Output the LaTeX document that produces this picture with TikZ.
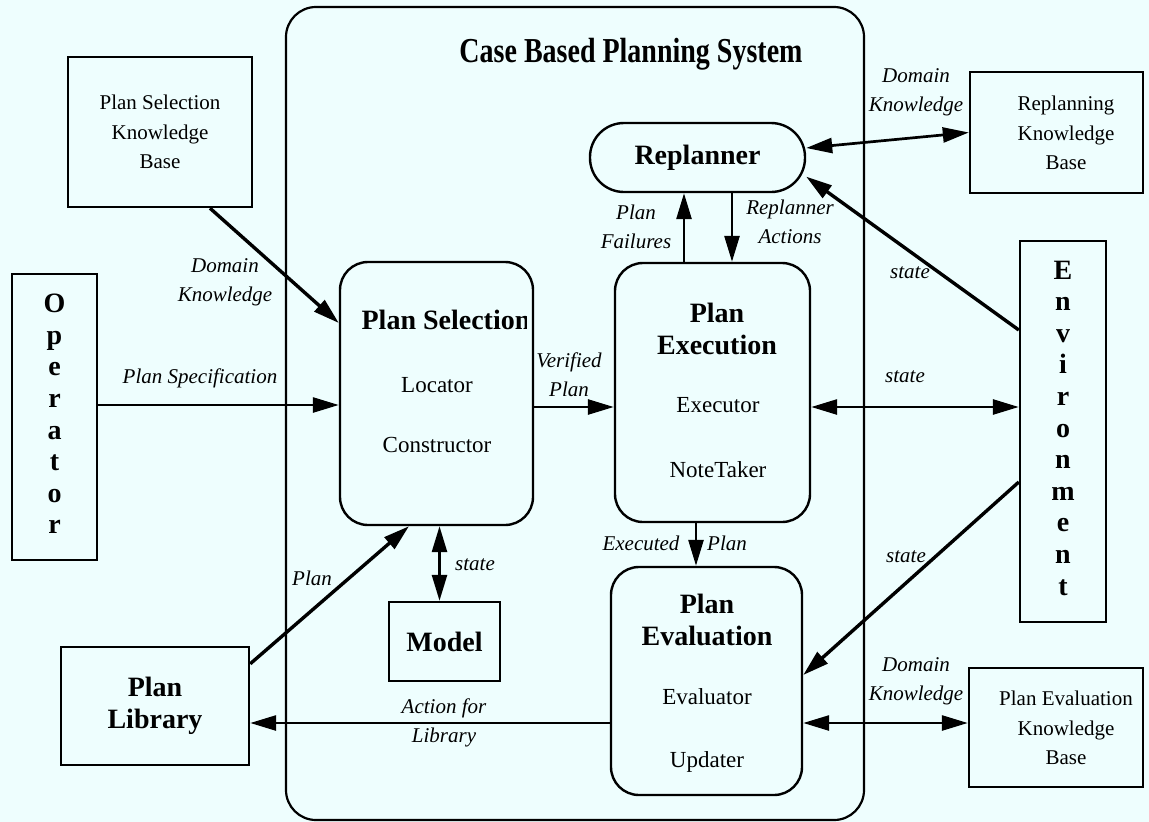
\documentclass[tikz,border=0pt]{standalone}
\usepackage{fontspec}
\setmainfont{Liberation Serif}
\usetikzlibrary{arrows.meta,calc}
\definecolor{paper}{RGB}{238,254,254}
\newcommand\fBig{\fontsize{28}{32}\selectfont\bfseries}
\newcommand\fHead{\fontsize{28}{32}\selectfont\bfseries}
\newcommand\fBody{\fontsize{23}{28}\selectfont}
\newcommand\fKB{\fontsize{21}{29.5}\selectfont}
\newcommand\fLab{\fontsize{21}{29}\selectfont\itshape}
\newcommand\fLetter{\fontsize{28}{31.6}\selectfont\bfseries}
\begin{document}
\begin{tikzpicture}[x=1pt,y=-1pt,
  sq/.style={draw, line width=2.4pt, inner sep=0pt, align=center},
  rbox/.style={sq, rounded corners=28pt},
  head/.style={font=\fHead, inner sep=0pt},
  body/.style={font=\fBody, inner sep=0pt},
  kbtext/.style={font=\fKB, align=center, inner sep=0pt},
  lab/.style={font=\fLab, align=center, inner sep=0pt},
  tip/.tip={Triangle[length=26pt,width=15pt]},
  arr/.style={line width=2.7pt, -tip},
  darr/.style={line width=2.7pt, tip-tip},
  heavy/.style={line width=3.4pt}]

\fill[paper] (0,0) rectangle (1149,822);
\useasboundingbox (0,0) rectangle (1149,822);

% the system boundary
\node[draw, line width=2.2pt, rounded corners=30pt, minimum width=578pt,
      minimum height=813pt, inner sep=0pt] (sys) at (575,413.5) {};
\node[font=\fBig, inner sep=0pt, anchor=base] (title) at (631,62)
  {\scalebox{1}[1.25]{Case Based Planning System}};

% outside parties
\node[sq, minimum width=184pt, minimum height=150pt, font=\fKB] (pskb) at (160,132)
  {Plan Selection\\Knowledge\\Base};
\node[sq, minimum width=85pt, minimum height=286pt] (op) at (54.5,417) {};
\node[font=\fLetter, align=center, inner sep=0pt] (opT) at (54.5,414)
  {O\\p\\e\\r\\a\\t\\o\\r};
\node[sq, minimum width=188pt, minimum height=118pt, font=\fHead] (pl) at (155,706)
  {Plan\\Library};
\node[sq, minimum width=173pt, minimum height=121pt] (rkb) at (1056.5,132.5) {};
\node[kbtext] (rkbT) at (1066,133) {Replanning\\Knowledge\\Base};
\node[sq, minimum width=86pt, minimum height=381pt] (env) at (1063,431.5) {};
\node[font=\fLetter, align=center, inner sep=0pt] (envT) at (1063,428)
  {E\\n\\v\\i\\r\\o\\n\\m\\e\\n\\t};
\node[sq, minimum width=174pt, minimum height=119pt] (pekb) at (1056,727.5) {};
\node[kbtext] (pekbT) at (1066,728) {Plan Evaluation\\Knowledge\\Base};

% components of the planning system
\node[rbox, minimum width=193pt, minimum height=263pt] (ps) at (436.5,393.5) {};
\begin{scope}
  \clip (ps.north west) rectangle ([xshift=-8pt]ps.south east);
  \node[head] (psT) at (446,320) {Plan Selection};
\end{scope}
\node[body] (psL) at (437,385) {Locator};
\node[body] (psC) at (437,445) {Constructor};

\node[sq, minimum width=111pt, minimum height=79pt, font=\fHead] (model) at (444.5,641.5) {Model};

\node[sq, rounded corners=34pt, minimum width=215pt, minimum height=69pt, font=\fHead]
  (rp) at (697.5,157.5) {Replanner};

\node[rbox, minimum width=195pt, minimum height=259pt] (pe) at (712.5,392.5) {};
\node[head, align=center] (peT) at (717,329) {Plan\\Execution};
\node[body] (peX) at (718,405) {Executor};
\node[body] (peN) at (718,470) {NoteTaker};

\node[rbox, minimum width=191pt, minimum height=228pt] (pev) at (706.5,681) {};
\node[head, align=center] (pevT) at (707,620) {Plan\\Evaluation};
\node[body] (pevE) at (707,697) {Evaluator};
\node[body] (pevU) at (707,762) {Updater};

% connectors
\draw[arr, heavy] ([xshift=50pt]pskb.south) -- ([yshift=70.5pt]ps.west);
\coordinate (psin) at ([yshift=-11.5pt]ps.west);
\draw[arr] (op.east |- psin) -- (psin);
\draw[arr, heavy] ([yshift=-18pt]pl.north east) -- ([xshift=-27.5pt]ps.south);
\coordinate (mtop) at ([xshift=-5pt]model.north);
\draw[darr] (mtop |- ps.south) -- (mtop);
\coordinate (vp) at ([yshift=-14.5pt]pe.west);
\draw[arr] (ps.east |- vp) -- (vp);
\coordinate (pf) at ([xshift=-13.5pt]rp.south);
\draw[arr] (pf |- pe.north) -- (pf);
\coordinate (ra) at ([xshift=34.5pt]rp.south);
\draw[arr] (ra) -- (ra |- pe.north);
\draw[darr] ([yshift=9.5pt]rp.east) -- (rkb.west);
\draw[arr, heavy] ([yshift=101.5pt]env.west) -- (rp.-10);
\coordinate (es) at ([yshift=-14.5pt]pe.east);
\draw[darr] (es) -- (es -| env.west);
\coordinate (ep) at ([xshift=-16.5pt]pe.south);
\draw[arr] (ep) -- (ep |- pev.north);
\draw[arr, heavy] ([yshift=-50.5pt]env.west) -- ([yshift=6pt]pev.east);
\coordinate (dk) at ([yshift=-42pt]pev.east);
\draw[darr] (dk) -- (dk -| pekb.west);
\coordinate (al) at ([yshift=-42pt]pev.west);
\draw[arr] (al) -- (al -| pl.east);

% connector labels
\node[lab] (lDK1) at (225,282.5) {Domain\\Knowledge};
\node[lab] (lPS) at (200,378) {Plan Specification};
\node[lab] (lPlan) at (312,578) {Plan};
\node[lab] (lMs) at (475,565) {state};
\node[lab] (lAL) at (444,722.5) {Action for\\Library};
\node[lab] (lVP) at (569,375) {Verified\\Plan};
\node[lab] (lPF) at (636,227) {Plan\\Failures};
\node[lab] (lRA) at (790,221.5) {Replanner\\Actions};
\node[lab] (lDK2) at (916,92.5) {Domain\\Knowledge};
\node[lab] (lS1) at (910,273) {state};
\node[lab] (lS2) at (905,377) {state};
\node[lab] (lS3) at (906,557) {state};
\node[lab] (lEx) at (641,543) {Executed};
\node[lab] (lEP) at (727,543) {Plan};
\node[lab] (lDK3) at (916,681) {Domain\\Knowledge};
\end{tikzpicture}
\end{document}
